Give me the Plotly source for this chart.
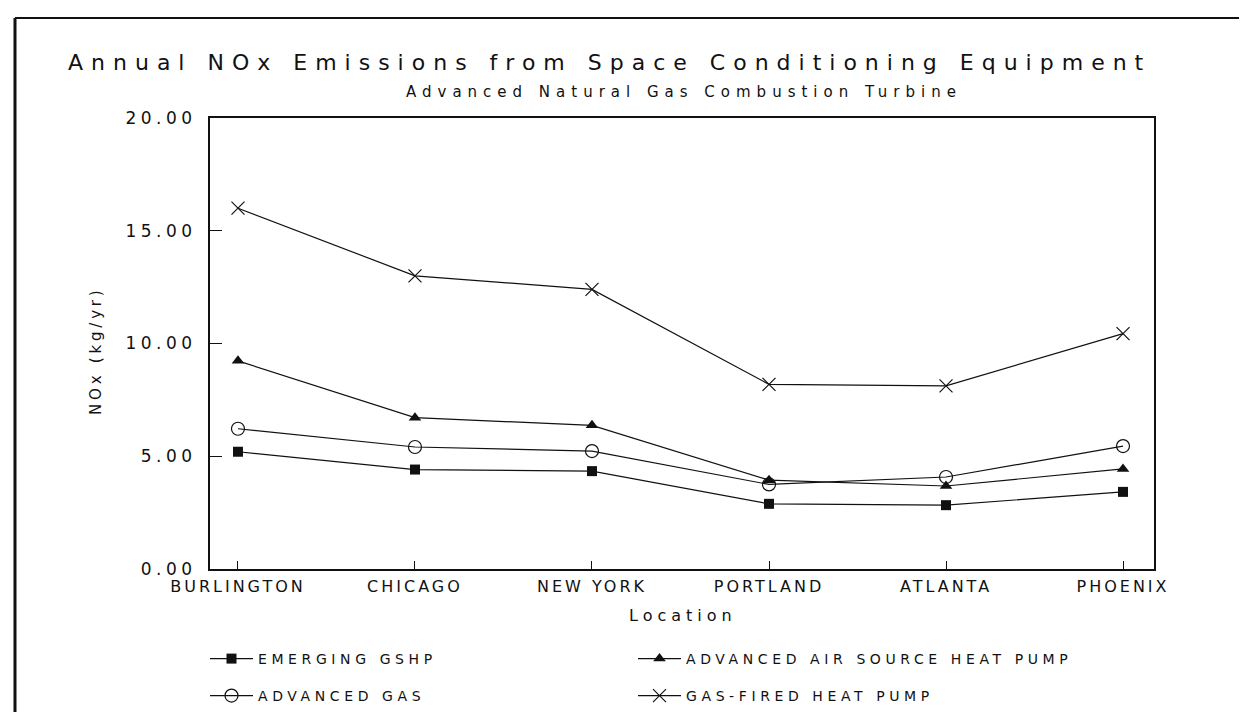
import plotly.graph_objects as go

# ---- data ----
locations = ["BURLINGTON", "CHICAGO", "NEW YORK", "PORTLAND", "ATLANTA", "PHOENIX"]
series_names = ["EMERGING GSHP", "ADVANCED AIR SOURCE HEAT PUMP", "ADVANCED GAS", "GAS-FIRED HEAT PUMP"]
emerging_gshp = [5.20, 4.41, 4.34, 2.89, 2.83, 3.42]
adv_air_source_hp = [9.23, 6.71, 6.37, 3.94, 3.68, 4.44]
advanced_gas = [6.22, 5.41, 5.23, 3.75, 4.08, 5.45]
gas_fired_hp = [16.00, 13.00, 12.40, 8.19, 8.12, 10.44]
y_ticks = [0, 5, 10, 15, 20]
y_tick_labels = ["0.00", "5.00", "10.00", "15.00", "20.00"]

FONT = "DejaVu Sans"
INK = "#111111"

def sp(text, ls):
    return f'<span style="letter-spacing:{ls}px">{text}</span>'

# figure geometry (px)
W, H = 1247, 712
L, R, T, B = 202, 101, 110, 151
PW, PH = W - L - R, H - T - B

def px(xp):
    return (xp - L) / PW

def py(yp):
    return (H - B - yp) / PH

xpos = list(range(len(locations)))

styles = [
    dict(symbol="square", size=10, color=INK),
    dict(symbol="triangle-up", size=11, color=INK),
    dict(symbol="circle-open", size=13, color=INK, line=dict(width=1.2, color=INK)),
    dict(symbol="x-thin-open", size=13, color=INK, line=dict(width=1.2, color=INK)),
]
values = [emerging_gshp, adv_air_source_hp, advanced_gas, gas_fired_hp]
legends = ["legend", "legend", "legend2", "legend2"]
entry_widths = [370, 430, 370, 430]

fig = go.Figure()
for name, vals, st, lg, ew in zip(series_names, values, styles, legends, entry_widths):
    fig.add_trace(go.Scatter(
        x=xpos, y=vals, mode="lines+markers", name=sp(name, 4.6),
        line=dict(color=INK, width=1.2), marker=st, legend=lg,
        legendwidth=ew,
    ))

legend_common = dict(
    orientation="h", xanchor="left", yanchor="middle",
    font=dict(family=FONT, size=14, color=INK),
    itemwidth=43,
    entrywidthmode="pixels",
    bgcolor="rgba(0,0,0,0)", borderwidth=0, itemclick=False,
)

fig.update_layout(
    width=W, height=H,
    margin=dict(l=L, r=R, t=T, b=B, autoexpand=False),
    paper_bgcolor="white", plot_bgcolor="white",
    showlegend=True,
    legend=dict(x=px(197), y=py(651), **legend_common),
    legend2=dict(x=px(197), y=py(688), **legend_common),
    xaxis=dict(
        range=[-0.158, 5.175], tickmode="array", tickvals=xpos,
        ticktext=[sp(t, 3) for t in locations],
        ticks="inside", ticklen=8, tickwidth=1.2, tickcolor=INK,
        showline=True, linewidth=2, linecolor=INK, mirror=True,
        showgrid=False, zeroline=False, ticklabelstandoff=2,
        tickfont=dict(family=FONT, size=16, color=INK),
    ),
    yaxis=dict(
        range=[0, 20], tickmode="array", tickvals=y_ticks,
        ticktext=[sp(t, 4.5) for t in y_tick_labels],
        ticks="inside", ticklen=12, tickwidth=1.2, tickcolor=INK,
        showline=True, linewidth=2, linecolor=INK, mirror=True,
        showgrid=False, zeroline=False, ticklabelstandoff=8,
        tickfont=dict(family=FONT, size=17, color=INK),
    ),
)

annotations = [
    dict(text=sp("Annual NOx Emissions from Space Conditioning Equipment", 8),
         x=px(58), y=py(55), xanchor="left", yanchor="middle",
         font=dict(family=FONT, size=22, color=INK)),
    dict(text=sp("Advanced Natural Gas Combustion Turbine", 6),
         x=px(676), y=py(84), xanchor="center", yanchor="middle",
         font=dict(family=FONT, size=15, color=INK)),
    dict(text=sp("Location", 5),
         x=px(675), y=py(607), xanchor="center", yanchor="middle",
         font=dict(family=FONT, size=16, color=INK)),
    dict(text=sp("NOx (kg/yr)", 3.8),
         x=px(88), y=py(343), xanchor="center", yanchor="middle", textangle=-90,
         font=dict(family=FONT, size=15, color=INK)),
]
for a in annotations:
    a.update(xref="paper", yref="paper", showarrow=False)
fig.update_layout(annotations=annotations)

# outer page frame (top and left edges)
fig.add_shape(type="line", xref="paper", yref="paper",
              x0=px(7), x1=px(1247), y0=py(10), y1=py(10),
              line=dict(color=INK, width=2))
fig.add_shape(type="line", xref="paper", yref="paper",
              x0=px(7), x1=px(7), y0=py(10), y1=py(712),
              line=dict(color=INK, width=3))

fig.write_html("out.html")
